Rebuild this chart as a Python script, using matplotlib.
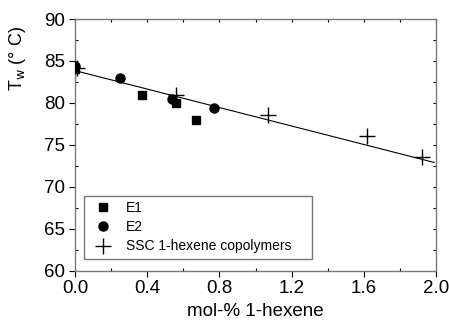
import matplotlib
matplotlib.use('Agg')
import matplotlib.pyplot as plt
import numpy as np

plt.rcParams['font.family'] = ['Liberation Sans', 'DejaVu Sans']

# E1 samples
e1_x = [0.0, 0.37, 0.56, 0.67]
e1_y = [84.0, 81.0, 80.0, 78.0]

# E2 samples
e2_x = [0.0, 0.25, 0.54, 0.77]
e2_y = [84.4, 83.0, 80.5, 79.4]

# SSC 1-hexene copolymers
ssc_x = [0.01, 0.56, 1.07, 1.62, 1.92]
ssc_y = [84.2, 80.9, 78.6, 76.1, 73.6]

# linear fit line endpoints
fit_x = [0.0, 1.99]
fit_y = [83.85, 72.9]

fig = plt.figure(figsize=(4.49, 3.21), dpi=100)
ax = fig.add_axes([75/449, 1-270.7/321, (436-75)/449, (270.7-19)/321])

ax.plot(fit_x, fit_y, color='black', lw=0.8, zorder=2)
ax.plot(e1_x, e1_y, 's', color='black', ms=5.5, ls='none', label='E1', zorder=3)
ax.plot(e2_x, e2_y, 'o', color='black', ms=6.5, ls='none', label='E2', zorder=3)
ax.plot(ssc_x, ssc_y, '+', color='black', ms=11, mew=1.0, ls='none',
        label='SSC 1-hexene copolymers    ', zorder=4)

ax.set_xlim(0, 2.0)
ax.set_ylim(60, 90)
ax.set_xticks(np.arange(0, 2.01, 0.4))
ax.set_xticks(np.arange(0, 2.01, 0.2), minor=True)
ax.set_yticks(np.arange(60, 91, 5))
ax.set_yticks(np.arange(60, 91, 2.5), minor=True)
ax.set_xticklabels(['%.1f' % v for v in np.arange(0, 2.01, 0.4)])

ax.tick_params(which='major', direction='out', length=4, width=0.8,
               labelsize=13.5, pad=3)
ax.tick_params(which='minor', direction='in', length=2.5, width=0.8)

for s in ax.spines.values():
    s.set_color('#777777')
    s.set_linewidth(1.0)

# inward ticks on top and right
top = ax.secondary_xaxis('top')
top.set_xticks(np.arange(0, 2.01, 0.2))
top.tick_params(direction='in', length=2, width=0.8, labeltop=False)
top.spines['top'].set_visible(False)
right = ax.secondary_yaxis('right')
right.set_yticks(np.arange(60, 91, 2.5))
right.tick_params(direction='in', length=2, width=0.8, labelright=False)
right.spines['right'].set_visible(False)

leg = ax.legend(loc='lower left', bbox_to_anchor=(9/361, 11.7/251.7), fontsize=10,
                frameon=True, fancybox=False, edgecolor='#555555',
                borderpad=0.4, borderaxespad=0, handletextpad=0.6,
                labelspacing=0.37, handlelength=2.0)
leg.get_frame().set_linewidth(1.0)

fig.text(255/449, 5/321, 'mol-% 1-hexene', ha='center', va='baseline', fontsize=13.5)
fig.text(18/449, 1-58/321, r'T$_{\rm w}$ (° C)', rotation=90, ha='center', va='center',
         fontsize=13)

fig.savefig('out.png', dpi=100)
